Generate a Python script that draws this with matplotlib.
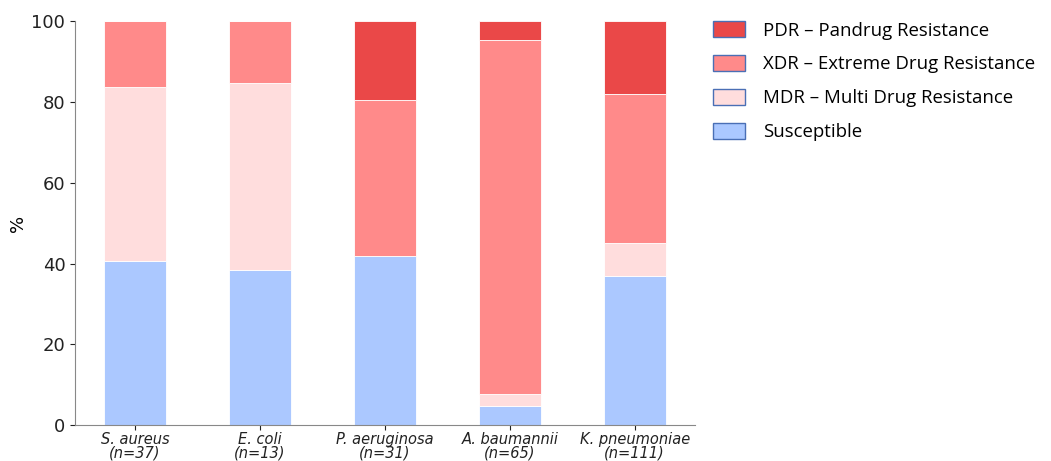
import matplotlib.pyplot as plt
import numpy as np
from matplotlib.patches import Patch

organisms = ["S. aureus\n(n=37)", "E. coli\n(n=13)", "P. aeruginosa\n(n=31)",
             "A. baumannii\n(n=65)", "K. pneumoniae\n(n=111)"]

# percentages per category
susceptible = [40.5, 38.5, 41.9, 4.6, 36.9]
mdr = [43.3, 46.1, 0.0, 3.1, 8.1]
xdr = [16.2, 15.4, 38.7, 87.7, 36.9]
pdr = [0.0, 0.0, 19.4, 4.6, 18.1]

labels = ["Susceptible", "MDR \u2013 Multi Drug Resistance",
          "XDR \u2013 Extreme Drug Resistance", "PDR \u2013 Pandrug Resistance"]
colors = ["#abc8ff", "#ffdddd", "#ff8a8a", "#ea4848"]

fig = plt.figure(figsize=(10.51, 4.61), dpi=100)
ax = fig.add_axes([0.0714, 0.078, 0.5896, 0.876])

x = np.arange(len(organisms))
bottom = np.zeros(len(organisms))
for vals, col in zip([susceptible, mdr, xdr, pdr], colors):
    ax.bar(x, vals, width=0.5, bottom=bottom, color=col, edgecolor="white", linewidth=0.6)
    bottom += np.array(vals)

ax.set_xlim(-0.48, 4.48)
ax.set_ylim(0, 100)
ax.set_xticks(x)
ax.set_xticklabels(organisms, fontsize=10.5, style="italic", linespacing=0.88)
ax.set_yticks([0, 20, 40, 60, 80, 100])
ax.tick_params(axis="y", labelsize=13, colors="#222222")
ax.tick_params(axis="x", colors="#222222", pad=1.5)
ax.set_ylabel("%", fontsize=13)
ax.yaxis.set_label_coords(-0.077, 0.5)
for s in ["top", "right"]:
    ax.spines[s].set_visible(False)
for s in ["left", "bottom"]:
    ax.spines[s].set_color("#888888")

handles = [Patch(facecolor=c, edgecolor="#4a6fb5", linewidth=1.0, label=l)
           for c, l in zip(colors, labels)][::-1]
fig.legend(handles=handles, loc="upper left", bbox_to_anchor=(0.662, 0.99),
           frameon=False, prop={"family": "Open Sans", "size": 13.4},
           handlelength=1.75, handleheight=0.9, labelspacing=0.85, handletextpad=0.95)

fig.savefig("out.png", dpi=100)
